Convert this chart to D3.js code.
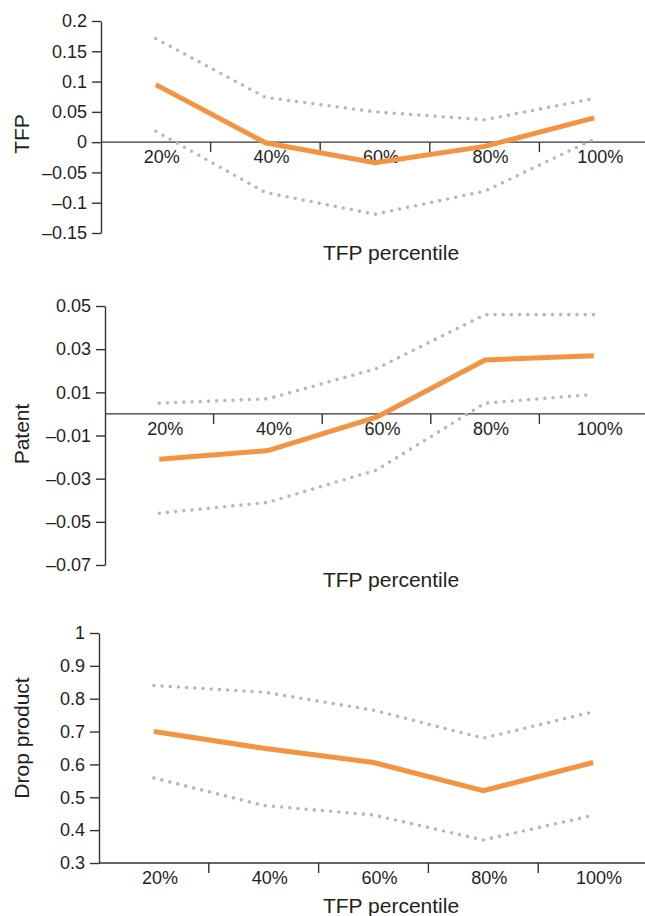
<!DOCTYPE html>
<html lang="en">
<head>
    <meta charset="UTF-8">
    <title>TFP percentile panels</title>
    <script src="https://cdn.jsdelivr.net/npm/d3@7/dist/d3.min.js"></script>
    <style>
        body { margin: 0; background: #fff; }
        text { font-family: "Liberation Sans", Arial, sans-serif; fill: #231f20; }
        .est { fill: none; stroke: #f39442; stroke-width: 5; }
        .ci { fill: none; stroke: #b8b8b8; stroke-width: 3.6; stroke-dasharray: 0 8.2; stroke-linecap: round; }
    </style>
</head>
<body>
    <svg id="main" width="645" height="916"></svg>
    <script>
        // categories
        let percentiles = ['20%', '40%', '60%', '80%', '100%'];

        // panel 1: TFP
        let tfpEst   = [0.095, -0.001, -0.034, -0.007, 0.040];
        let tfpUpper = [0.171, 0.074, 0.050, 0.037, 0.072];
        let tfpLower = [0.018, -0.083, -0.119, -0.081, 0.005];
        let tfpTicks = [0.2, 0.15, 0.1, 0.05, 0, -0.05, -0.1, -0.15];

        // panel 2: Patent
        let patEst   = [-0.021, -0.017, -0.0015, 0.025, 0.027];
        let patUpper = [0.005, 0.007, 0.021, 0.046, 0.046];
        let patLower = [-0.046, -0.041, -0.026, 0.005, 0.009];
        let patTicks = [0.05, 0.03, 0.01, -0.01, -0.03, -0.05, -0.07];

        // panel 3: Drop product
        let dropEst   = [0.700, 0.649, 0.606, 0.520, 0.606];
        let dropUpper = [0.840, 0.820, 0.765, 0.680, 0.760];
        let dropLower = [0.559, 0.475, 0.446, 0.370, 0.445];
        let dropTicks = [1, 0.9, 0.8, 0.7, 0.6, 0.5, 0.4, 0.3];

        let svg = d3.select('svg#main');

        // minus sign like the original print
        let fmt = function (d) {
            return d < 0 ? '\u2013' + String(-d) : String(d);
        };

        let panels = [
            {title: 'TFP', est: tfpEst, upper: tfpUpper, lower: tfpLower, ticks: tfpTicks,
             x0: 101, bw: 109.6, yDom: [-0.15, 0.2], yRng: [233, 21], base: 0,
             titleY: 134, xTitleY: 260},
            {title: 'Patent', est: patEst, upper: patUpper, lower: patLower, ticks: patTicks,
             x0: 105, bw: 108.6, yDom: [-0.07, 0.05], yRng: [565, 306], base: 0,
             titleY: 434, xTitleY: 587},
            {title: 'Drop product', est: dropEst, upper: dropUpper, lower: dropLower, ticks: dropTicks,
             x0: 99, bw: 109.8, yDom: [0.3, 1], yRng: [863, 633], base: 0.3,
             titleY: 738, xTitleY: 913}
        ];

        panels.forEach(function (p) {
            let g = svg.append('g');

            let xScale = d3.scaleBand().domain(percentiles)
                .range([p.x0, p.x0 + p.bw * percentiles.length]);
            let yScale = d3.scaleLinear().domain(p.yDom).range(p.yRng);
            let axisY = yScale(p.base);

            // y axis
            g.append('g')
                .attr('transform', 'translate(' + p.x0 + ',0)')
                .call(d3.axisLeft(yScale).tickValues(p.ticks).tickFormat(fmt)
                    .tickSize(9).tickPadding(5).tickSizeOuter(0))
                .call(function (a) {
                    a.select('.domain').attr('stroke', '#333').attr('stroke-width', 1.4);
                    a.selectAll('.tick line').attr('stroke', '#333').attr('stroke-width', 1.4);
                    a.selectAll('text').style('font-size', '18px')
                        .style('font-family', '"Liberation Sans", Arial, sans-serif')
                        .attr('fill', '#231f20');
                });

            // x axis line across the panel
            g.append('line')
                .attr('x1', p.x0).attr('x2', 645)
                .attr('y1', axisY).attr('y2', axisY)
                .attr('stroke', '#333').attr('stroke-width', 1.4);

            // tick marks between categories
            g.selectAll('line.xt')
                .data(percentiles.slice(1))
                .enter()
                .append('line')
                .attr('class', 'xt')
                .attr('x1', function (d) { return xScale(d); })
                .attr('x2', function (d) { return xScale(d); })
                .attr('y1', axisY).attr('y2', axisY + 10)
                .attr('stroke', '#333').attr('stroke-width', 1.4);

            // category labels
            g.selectAll('text.xl')
                .data(percentiles)
                .enter()
                .append('text')
                .attr('class', 'xl')
                .attr('x', function (d) { return xScale(d) + xScale.bandwidth() / 2 + 6; })
                .attr('y', axisY + 21)
                .attr('text-anchor', 'middle')
                .style('font-size', '18px')
                .text(function (d) { return d; });

            // lines
            let line = d3.line()
                .x(function (d, i) { return xScale(percentiles[i]) + xScale.bandwidth() / 2; })
                .y(function (d) { return yScale(d); });

            g.append('path').attr('class', 'ci').attr('d', line(p.upper));
            g.append('path').attr('class', 'ci').attr('d', line(p.lower));
            g.append('path').attr('class', 'est').attr('d', line(p.est));

            // axis titles
            g.append('text')
                .attr('transform', 'translate(29,' + p.titleY + ') rotate(-90)')
                .attr('text-anchor', 'middle')
                .style('font-size', '21px')
                .text(p.title);

            g.append('text')
                .attr('x', 391).attr('y', p.xTitleY)
                .attr('text-anchor', 'middle')
                .style('font-size', '21px')
                .text('TFP percentile');
        });
    </script>
</body>
</html>
